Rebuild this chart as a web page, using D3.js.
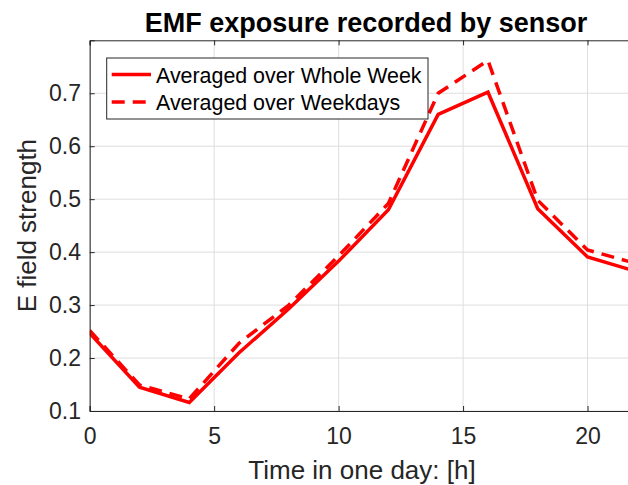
<!DOCTYPE html>
<html>
<head>
<meta charset="utf-8">
<script src="https://cdn.jsdelivr.net/npm/d3@7"></script>
<style>
  html, body { margin: 0; padding: 0; background: #fff; }
  svg { display: block; font-family: "Liberation Sans", Arial, Helvetica, sans-serif; }
</style>
</head>
<body>
<svg id="chart" width="628" height="485"></svg>
<script>
// ---- data ----
const hours = [0, 2, 4, 6, 8, 10, 12, 14, 16, 18, 20, 22];
const wholeWeek = [0.247, 0.145, 0.116, 0.210, 0.293, 0.383, 0.480, 0.660, 0.702, 0.482, 0.391, 0.363];
const weekdays  = [0.252, 0.149, 0.123, 0.228, 0.300, 0.393, 0.492, 0.700, 0.762, 0.498, 0.404, 0.378];
const seriesNames = ["Averaged over Whole Week", "Averaged over Weekdays"];
const xTicks = [0, 5, 10, 15, 20];
const yTicks = [0.1, 0.2, 0.3, 0.4, 0.5, 0.6, 0.7];
const titleText = "EMF exposure recorded by sensor";
const xLabelText = "Time in one day: [h]";
const yLabelText = "E field strength";

// ---- layout ----
const W = 628, H = 485;
const L = 89.7, R = 637.3, T = 40.3, B = 411;
const axisColor = "#262626";
const gridColor = "#dedede";
const red = "#ff0000";

const svg = d3.select("#chart");
const x = d3.scaleLinear().domain([0, 22]).range([L, R]);
const y = d3.scaleLinear().domain([0.1, 0.8]).range([B, T]);

svg.append("rect").attr("width", W).attr("height", H).attr("fill", "#fff");

// grid
const grid = svg.append("g");
grid.selectAll(".gx").data(xTicks).join("line")
  .attr("x1", d => x(d)).attr("x2", d => x(d))
  .attr("y1", T).attr("y2", B)
  .attr("stroke", gridColor).attr("stroke-width", 1);
grid.selectAll(".gy").data(yTicks).join("line")
  .attr("x1", L).attr("x2", R)
  .attr("y1", d => y(d)).attr("y2", d => y(d))
  .attr("stroke", gridColor).attr("stroke-width", 1);

// clip
svg.append("clipPath").attr("id", "clip")
  .append("rect").attr("x", L).attr("y", T).attr("width", R - L).attr("height", B - T);

// lines
const line = (vals) => d3.line().x((d, i) => x(hours[i])).y(d => y(d))(vals);
const plot = svg.append("g").attr("clip-path", "url(#clip)");
plot.append("path").attr("d", line(wholeWeek))
  .attr("fill", "none").attr("stroke", red).attr("stroke-width", 3.5)
  .attr("stroke-linejoin", "miter");
plot.append("path").attr("d", line(weekdays))
  .attr("fill", "none").attr("stroke", red).attr("stroke-width", 3.5)
  .attr("stroke-dasharray", "13,8");

// axes
const fontTick = 23;
const xAxis = d3.axisBottom(x).tickValues(xTicks).tickSize(-5).tickPadding(17).tickFormat(d3.format("d"));
const xTop = d3.axisTop(x).tickValues(xTicks).tickSize(-5).tickFormat("");
const yAxis = d3.axisLeft(y).tickValues(yTicks).tickSize(-5).tickPadding(8.7).tickFormat(d3.format(".1f"));

function styleAxis(g) {
  g.select(".domain").attr("stroke", axisColor).attr("stroke-width", 1);
  g.selectAll(".tick line").attr("stroke", axisColor).attr("stroke-width", 1);
  g.selectAll(".tick text").attr("fill", axisColor)
    .style("font-size", fontTick + "px")
    .style("font-family", "'Liberation Sans', Arial, sans-serif");
}
svg.append("g").attr("transform", `translate(0,${B})`).call(xAxis).call(styleAxis);
svg.append("g").attr("transform", `translate(0,${T})`).call(xTop).call(styleAxis);
svg.append("g").attr("transform", `translate(${L},0)`).call(yAxis).call(styleAxis);
svg.append("line").attr("x1", R).attr("x2", R).attr("y1", T).attr("y2", B)
  .attr("stroke", axisColor).attr("stroke-width", 1);

// title and labels
svg.append("text").attr("x", 366).attr("y", 32)
  .attr("text-anchor", "middle").attr("fill", "#000")
  .style("font-size", "27px").style("font-weight", "bold")
  .text(titleText);
svg.append("text").attr("x", 362).attr("y", 479)
  .attr("text-anchor", "middle").attr("fill", axisColor)
  .style("font-size", "26px")
  .text(xLabelText);
svg.append("text")
  .attr("transform", `translate(35.5,${(T + B) / 2}) rotate(-90)`)
  .attr("text-anchor", "middle").attr("fill", axisColor)
  .style("font-size", "26px")
  .text(yLabelText);

// legend
const lg = svg.append("g");
lg.append("rect").attr("x", 106.7).attr("y", 58).attr("width", 428 - 106.7).attr("height", 61)
  .attr("fill", "#fff").attr("stroke", axisColor).attr("stroke-width", 1);
const rows = [{name: seriesNames[0], dash: null, yy: 74.5}, {name: seriesNames[1], dash: "13,8", yy: 102}];
rows.forEach(r => {
  lg.append("line").attr("x1", 111.7).attr("x2", 151).attr("y1", r.yy).attr("y2", r.yy)
    .attr("stroke", red).attr("stroke-width", 3.5)
    .attr("stroke-dasharray", r.dash);
  lg.append("text").attr("x", 156).attr("y", r.yy + 8)
    .attr("fill", "#000").style("font-size", "21.4px")
    .text(r.name);
});
</script>
</body>
</html>
